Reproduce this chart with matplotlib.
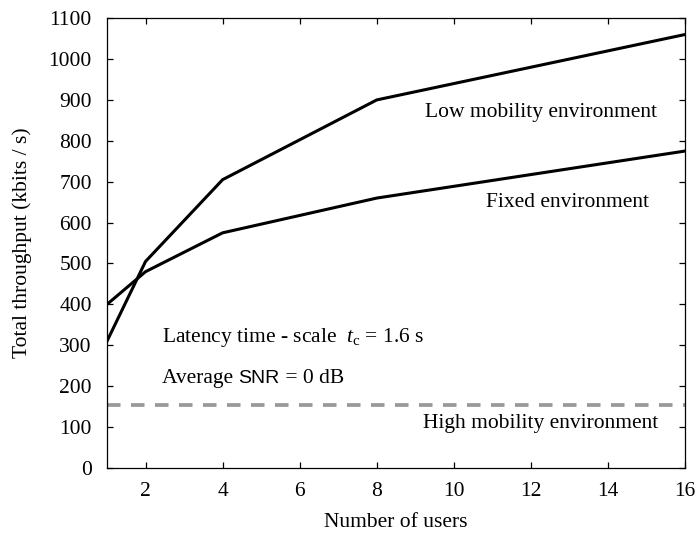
import matplotlib
matplotlib.use("Agg")
import matplotlib.pyplot as plt

users = [1, 2, 4, 8, 16]
low_mobility = [310, 505, 705, 900, 1060]
fixed = [400, 480, 575, 660, 775]
high_mobility = [153, 153, 153, 153, 153]

x_ticks = [2, 4, 6, 8, 10, 12, 14, 16]
y_ticks = list(range(0, 1101, 100))

plt.rcParams["font.family"] = ["Liberation Serif", "DejaVu Serif"]
plt.rcParams["mathtext.fontset"] = "custom"
plt.rcParams["mathtext.it"] = "Liberation Serif:italic"
plt.rcParams["mathtext.rm"] = "Liberation Serif"

FS = 15.5

fig = plt.figure(figsize=(6.97, 5.33), dpi=100)
ax = fig.add_axes([0.1535, 0.122, 0.8295, 0.844])

ax.plot(users, low_mobility, color="black", lw=2.2)
ax.plot(users, fixed, color="black", lw=2.2)
ax.plot(users, high_mobility, color="#999999", lw=2.7, dashes=(3.6, 2.8))

ax.set_xlim(1, 16)
ax.set_ylim(0, 1100)
ax.set_xticks(x_ticks)
ax.set_yticks(y_ticks)
ax.tick_params(direction="in", length=4, width=0.9, labelsize=FS,
               top=True, right=True)
ax.tick_params(axis="x", pad=10)
ax.tick_params(axis="y", pad=11)
for s in ax.spines.values():
    s.set_linewidth(0.9)

ax.set_xlabel("Number of users", fontsize=FS, labelpad=9)
ax.set_ylabel("Total throughput (kbits / s)", fontsize=FS, labelpad=12)

ax.text(12.25, 868, "Low mobility environment", fontsize=FS, ha="center", va="center")
ax.text(12.95, 648, "Fixed environment", fontsize=FS, ha="center", va="center")
ax.text(12.25, 108, "High mobility environment", fontsize=FS, ha="center", va="center")
ax.text(2.43, 320, "Latency time - scale  $t_{\\mathrm{c}}$ = 1.6 s", fontsize=FS, ha="left", va="center")
t = ax.text(2.43, 218, "Average ", fontsize=FS, ha="left", va="center")
fig.canvas.draw()
bb = t.get_window_extent()
x1 = ax.transData.inverted().transform((bb.x1, 0))[0]
t2 = ax.text(x1, 218, "SNR", fontsize=FS - 1.5, ha="left", va="center", family="Liberation Sans")
fig.canvas.draw()
bb2 = t2.get_window_extent()
x2 = ax.transData.inverted().transform((bb2.x1, 0))[0]
ax.text(x2, 218, " = 0 dB", fontsize=FS, ha="left", va="center")

fig.savefig("out.png", dpi=100)
